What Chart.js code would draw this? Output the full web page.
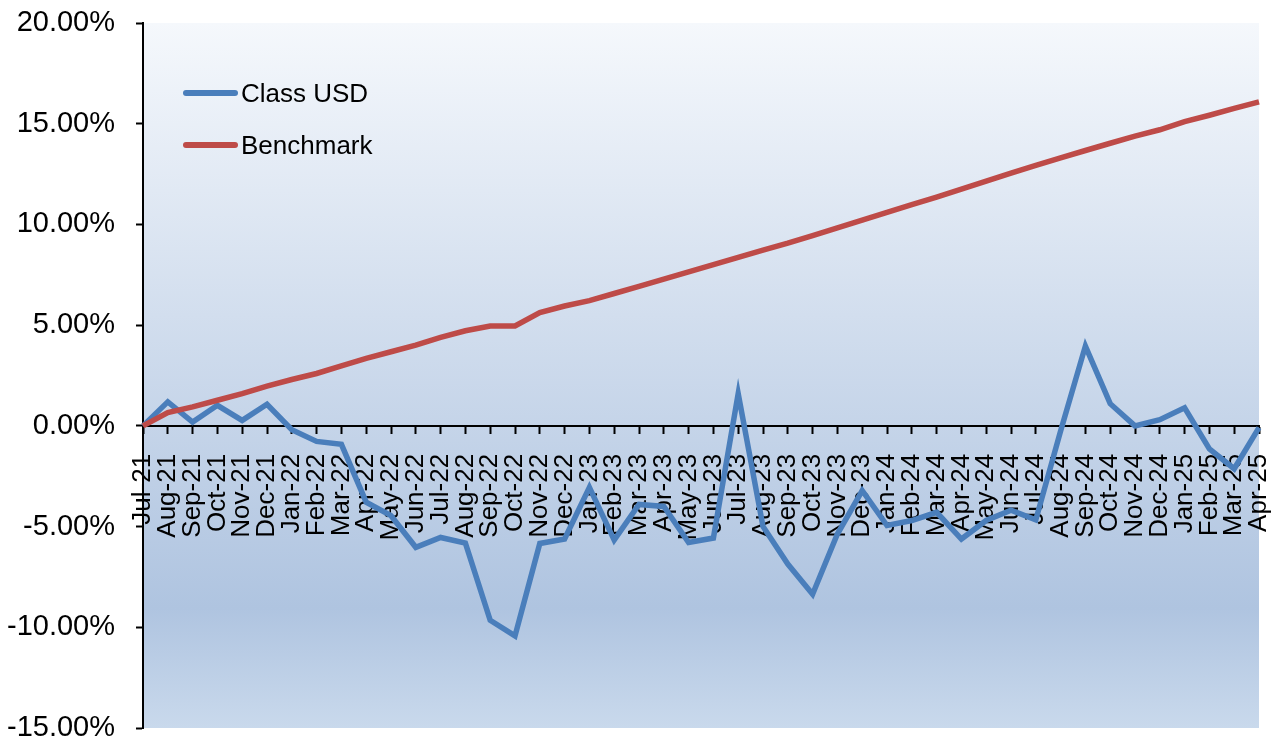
<!DOCTYPE html>
<html>
<head>
<meta charset="utf-8">
<script src="https://cdn.jsdelivr.net/npm/chart.js@4.4.1/dist/chart.umd.min.js"></script>
<style>
  html, body { margin: 0; padding: 0; background: #fff; }
  #wrap { position: relative; width: 1287px; height: 742px; }
  #legend { position: absolute; left: 183px; top: 67px; font-family: "Liberation Sans", Arial, sans-serif; font-size: 26px; color: #000; }
  #legend .item { display: flex; align-items: center; height: 52px; }
  #legend .swatch { width: 55px; height: 6px; border-radius: 3px; margin-right: 3px; }
</style>
</head>
<body>
<div id="wrap">
  <canvas id="chart"></canvas>
  <div id="legend"></div>
</div>
<script>
var months = [
  "Jul-21", "Aug-21", "Sep-21", "Oct-21", "Nov-21", "Dec-21",
  "Jan-22", "Feb-22", "Mar-22", "Apr-22", "May-22", "Jun-22",
  "Jul-22", "Aug-22", "Sep-22", "Oct-22", "Nov-22", "Dec-22",
  "Jan-23", "Feb-23", "Mar-23", "Apr-23", "May-23", "Jun-23",
  "Jul-23", "Aug-23", "Sep-23", "Oct-23", "Nov-23", "Dec-23",
  "Jan-24", "Feb-24", "Mar-24", "Apr-24", "May-24", "Jun-24",
  "Jul-24", "Aug-24", "Sep-24", "Oct-24", "Nov-24", "Dec-24",
  "Jan-25", "Feb-25", "Mar-25", "Apr-25"
];

var classUsd = [
  0, 1.19, 0.19, 1.02, 0.27, 1.07,
  -0.19, -0.77, -0.92, -3.79, -4.46, -6.03,
  -5.54, -5.82, -9.65, -10.43, -5.84, -5.62,
  -3.05, -5.67, -3.9, -4.0, -5.79, -5.57,
  1.6, -5.0, -6.86, -8.36, -5.37, -3.21,
  -4.95, -4.7, -4.29, -5.62, -4.7, -4.19,
  -4.67, -0.25, 3.96, 1.1, 0.0, 0.31,
  0.9, -1.14, -2.13, -0.09
];

var benchmark = [
  0, 0.66, 0.94, 1.27, 1.6, 1.97,
  2.3, 2.6, 2.98, 3.35, 3.68, 4.01,
  4.39, 4.72, 4.96, 4.96, 5.62, 5.95,
  6.22, 6.57, 6.93, 7.28, 7.64, 8.0,
  8.37, 8.72, 9.07, 9.45, 9.83, 10.21,
  10.6, 10.98, 11.36, 11.75, 12.15, 12.55,
  12.93, 13.3, 13.67, 14.03, 14.38, 14.7,
  15.1, 15.42, 15.76, 16.08
];

var seriesNames = ["Class USD", "Benchmark"];
var seriesColors = ["#4a7ebb", "#be4b48"];

var yMin = -15, yMax = 20, yStep = 5;

// plot area background, light at the top, darker towards the bottom
var plotBackground = {
  id: "plotBackground",
  beforeDraw: function (chart) {
    var a = chart.chartArea, ctx = chart.ctx;
    var g = ctx.createLinearGradient(0, a.top, 0, a.bottom);
    g.addColorStop(0, "#f5f8fc");
    g.addColorStop(0.83, "#afc4e0");
    g.addColorStop(1, "#c9d9ec");
    ctx.save();
    ctx.fillStyle = g;
    ctx.fillRect(a.left, a.top, a.right - a.left, a.bottom - a.top);
    ctx.restore();
  }
};

var font = "'Liberation Sans', Arial, sans-serif";

var chart = new Chart(document.getElementById("chart"), {
  type: "line",
  data: {
    labels: months,
    datasets: [
      {
        label: seriesNames[0],
        data: classUsd,
        borderColor: seriesColors[0],
        backgroundColor: seriesColors[0],
        borderWidth: 5.5,
        pointRadius: 0,
        tension: 0,
        order: 1
      },
      {
        label: seriesNames[1],
        data: benchmark,
        borderColor: seriesColors[1],
        backgroundColor: seriesColors[1],
        borderWidth: 5.5,
        pointRadius: 0,
        tension: 0,
        order: 0
      }
    ]
  },
  options: {
    responsive: true,
    maintainAspectRatio: false,
    animation: false,
    layout: { padding: { left: 0, right: 28, top: 23, bottom: 14 } },
    plugins: {
      legend: { display: false },
      tooltip: { enabled: false }
    },
    scales: {
      x: {
        type: "category",
        position: { y: 0 },
        offset: false,
        grid: { drawOnChartArea: false, drawTicks: true, tickLength: 7, tickWidth: 2, tickColor: "#000" },
        border: { display: true, color: "#000", width: 2 },
        ticks: {
          autoSkip: false,
          maxRotation: 90,
          minRotation: 90,
          padding: 21,
          color: "#000",
          font: { family: font, size: 26 }
        },
        afterFit: function (scale) {
          scale.paddingLeft = 0;
          scale.paddingRight = 0;
          scale.paddingTop = 0;
          scale.paddingBottom = 0;
        }
      },
      y: {
        min: yMin,
        max: yMax,
        grid: { drawOnChartArea: false, drawTicks: true, tickLength: 7, tickWidth: 2, tickColor: "#000" },
        border: { display: true, color: "#000", width: 2 },
        ticks: {
          stepSize: yStep,
          padding: 21,
          color: "#000",
          font: { family: font, size: 29 },
          callback: function (v) { return v.toFixed(2) + "%"; }
        },
        afterFit: function (scale) {
          scale.width = 143;
          scale.paddingTop = 0;
          scale.paddingBottom = 0;
        }
      }
    }
  },
  plugins: [plotBackground]
});

// legend inside the plot, built from the datasets
var legendBox = document.getElementById("legend");
chart.data.datasets.forEach(function (ds) {
  var item = document.createElement("div");
  item.className = "item";
  var sw = document.createElement("span");
  sw.className = "swatch";
  sw.style.background = ds.borderColor;
  var txt = document.createElement("span");
  txt.textContent = ds.label;
  item.appendChild(sw);
  item.appendChild(txt);
  legendBox.appendChild(item);
});
</script>
</body>
</html>
